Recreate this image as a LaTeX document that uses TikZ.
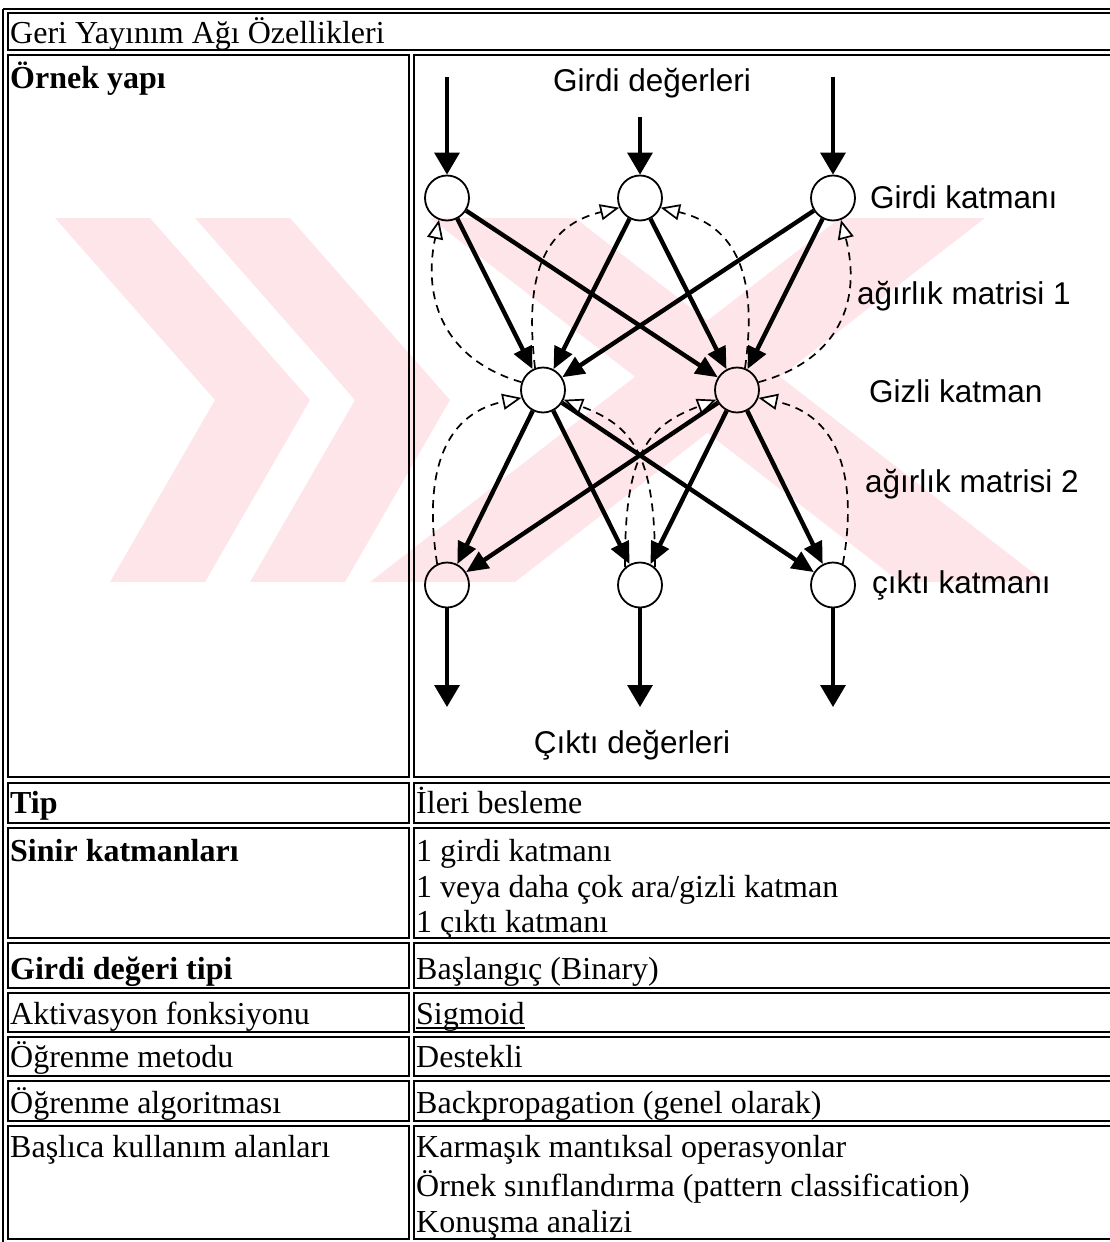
\documentclass[tikz,border=0pt]{standalone}
\usepackage{fontspec}
\setmainfont{Liberation Serif}
\newfontfamily\labelfont{Liberation Sans}
\usetikzlibrary{arrows.meta,shapes.geometric}

\definecolor{wmpink}{RGB}{253,229,234}

\begin{document}
\begin{tikzpicture}[x=1pt,y=-1pt,
  rule/.style={line width=1.3pt},
  cell/.style={anchor=base west, inner sep=0pt, font=\fontsize{32}{37}\selectfont},
  hd/.style={anchor=base west, inner sep=0pt, font=\fontsize{32}{37}\selectfont\bfseries},
  lbl/.style={anchor=base west, inner sep=0pt, font=\labelfont\fontsize{31.5}{36}\selectfont},
  neuron/.style={ellipse, draw, line width=1.8pt, minimum width=44pt, minimum height=45pt, inner sep=0pt},
  feed/.style={line width=4.4pt, -{Triangle[length=22pt,width=19pt]}},
  io/.style={line width=3.3pt, -{Triangle[length=22pt,width=25pt]}},
  back/.style={line width=1.7pt, dash pattern=on 8pt off 6pt,
    -{Triangle[open,length=19pt,width=16pt,fill=white]}},
]
\useasboundingbox (0,0) rectangle (1110,1242);

% faint background emblem
\fill[wmpink] (55,218) -- (150,218) -- (310,400) -- (205,582) -- (110,582) -- (215,400) -- cycle;
\fill[wmpink] (195,218) -- (290,218) -- (450,400) -- (345,582) -- (250,582) -- (355,400) -- cycle;
\fill[wmpink] (430,218) -- (575,218) -- (1045,582) -- (900,582) -- cycle;
\fill[wmpink] (840,218) -- (985,218) -- (515,582) -- (370,582) -- cycle;

% table frame
\draw[rule] (3,9) -- (1110,9);
\draw[rule] (3,9) -- (3,1242);
\draw[rule] (1110,13) -- (8,13) -- (8,50) -- (1110,50);
\foreach \t/\b in {55/777, 783/823, 828/938, 943/988, 993/1032, 1037/1076, 1081/1121, 1126/1239}{
  \draw[rule] (8,\t) rectangle (409,\b);
  \draw[rule] (1110,\t) -- (414,\t) -- (414,\b) -- (1110,\b);
}

% table text
\node[cell] (title) at (10,43) {Geri Yayınım Ağı Özellikleri};
\node[hd] (k1) at (10,88) {Örnek yapı};
\node[hd] (k2) at (10,813) {Tip};
\node[cell] (v2) at (416,813) {İleri besleme};
\node[hd] (k3) at (10,861) {Sinir katmanları};
\node[cell] (v3a) at (416,861) {1 girdi katmanı};
\node[cell] (v3b) at (416,897) {1 veya daha çok ara/gizli katman};
\node[cell] (v3c) at (416,932) {1 çıktı katmanı};
\node[hd] (k4) at (10,979) {Girdi değeri tipi};
\node[cell] (v4) at (416,979) {Başlangıç (Binary)};
\node[cell] (k5) at (10,1024) {Aktivasyon fonksiyonu};
\node[cell] (v5) at (416,1024) {Sigmoid};
\draw[line width=1.6pt] ([yshift=-4pt]v5.base west) -- ([yshift=-4pt]v5.base east);
\node[cell] (k6) at (10,1067) {Öğrenme metodu};
\node[cell] (v6) at (416,1067) {Destekli};
\node[cell] (k7) at (10,1113) {Öğrenme algoritması};
\node[cell] (v7) at (416,1113) {Backpropagation (genel olarak)};
\node[cell] (k8) at (10,1157) {Başlıca kullanım alanları};
\node[cell] (v8a) at (416,1157) {Karmaşık mantıksal operasyonlar};
\node[cell] (v8b) at (416,1196) {Örnek sınıflandırma (pattern classification)};
\node[cell] (v8c) at (416,1232) {Konuşma analizi};

% network neurons
\node[neuron] (in1) at (447,198) {};
\node[neuron] (in2) at (640,198) {};
\node[neuron] (in3) at (833,198) {};
\node[neuron] (h1) at (543,390) {};
\node[neuron] (h2) at (737,390) {};
\node[neuron] (out1) at (447,585) {};
\node[neuron] (out2) at (640,585) {};
\node[neuron] (out3) at (833,585) {};

% network labels
\node[lbl, anchor=base] (inv) at (652,91) {Girdi değerleri};
\node[lbl, anchor=base] (outv) at (632,753) {Çıktı değerleri};
\node[lbl] (l1) at (870,208) {Girdi katmanı};
\node[lbl] (l2) at (857,304) {ağırlık matrisi 1};
\node[lbl] (l3) at (869,402) {Gizli katman};
\node[lbl] (l4) at (865,492) {ağırlık matrisi 2};
\node[lbl] (l5) at (872,593) {çıktı katmanı};

% input and output lines
\coordinate (s1) at (447,77);
\coordinate (s2) at (640,117);
\coordinate (s3) at (833,77);
\coordinate (e1) at (447,707);
\coordinate (e2) at (640,707);
\coordinate (e3) at (833,707);
\draw[io] (s1) -- (in1);
\draw[io] (s2) -- (in2);
\draw[io] (s3) -- (in3);
\draw[io] (out1) -- (e1);
\draw[io] (out2) -- (e2);
\draw[io] (out3) -- (e3);

% forward connections
\foreach \a in {in1,in2,in3}{
  \foreach \b in {h1,h2}{ \draw[feed] (\a) -- (\b); }
}
\foreach \a in {h1,h2}{
  \foreach \b in {out1,out2,out3}{ \draw[feed] (\a) -- (\b); }
}

% error feedback paths
\draw[back] (h1.160) .. controls (445,360) and (422,300) .. (in1.250);
\draw[back] (h1.110) .. controls (526,290) and (535,228) .. (in2.205);
\draw[back] (h2.70) .. controls (756,290) and (745,228) .. (in2.335);
\draw[back] (h2.20) .. controls (840,360) and (862,300) .. (in3.290);
\draw[back] (out1.115) .. controls (424,480) and (440,415) .. (h1.200);
\draw[back] (out2.130) .. controls (624,450) and (650,425) .. (h2.205);
\draw[back] (out2.50) .. controls (656,450) and (630,425) .. (h1.335);
\draw[back] (out3.65) .. controls (858,480) and (840,415) .. (h2.340);
\end{tikzpicture}
\end{document}
